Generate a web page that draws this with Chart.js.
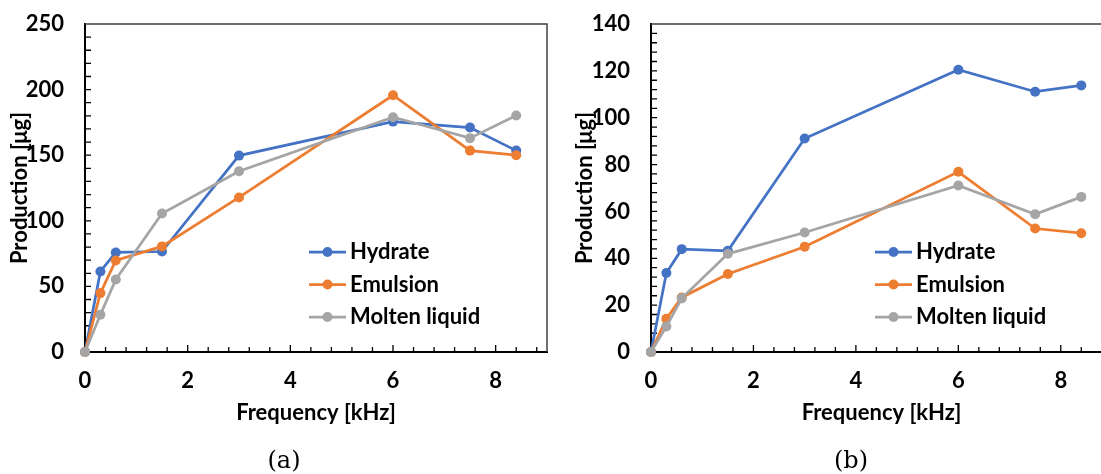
<!DOCTYPE html>
<html>
<head>
<meta charset="utf-8">
<script src="https://cdn.jsdelivr.net/npm/chart.js@4.4.1/dist/chart.umd.min.js"></script>
<style>
  html, body { margin: 0; padding: 0; background: #fff; overflow: hidden; }
  #wrap { position: relative; width: 1101px; height: 474px; overflow: hidden; }
  canvas { position: absolute; top: 0; }
  #chartA { left: 0; }
  #chartB { left: 560px; }
  .caption { position: absolute; top: 446px; width: 60px; text-align: center; line-height: 30px;
             font: 24px "DejaVu Serif", "Liberation Serif", serif; color: #000; }
</style>
</head>
<body>
<div id="wrap">
  <canvas id="chartA" width="560" height="474"></canvas>
  <canvas id="chartB" width="560" height="474"></canvas>
  <div class="caption" style="left:254px">(a)</div>
  <div class="caption" style="left:821px">(b)</div>
</div>
<script>
// ================== DATA ===================
const freq = [0, 0.3, 0.6, 1.5, 3, 6, 7.5, 8.4];
const seriesNames = ["Hydrate", "Emulsion", "Molten liquid"];
const seriesColors = ["#4472C4", "#ED7D31", "#A5A5A5"];

const hydrateA = [0, 61.4, 75.9, 76.6, 149.7, 175.6, 171.1, 153.5];
const emulsionA = [0, 44.9, 69.8, 80.5, 117.8, 195.7, 153.5, 150.0];
const moltenA = [0, 28.4, 55.3, 105.6, 137.8, 178.9, 163.0, 180.2];

const hydrateB = [0, 33.7, 43.9, 43.2, 91.1, 120.5, 111.1, 113.8];
const emulsionB = [0, 14.2, 23.3, 33.3, 44.9, 76.9, 52.7, 50.7];
const moltenB = [0, 10.9, 22.9, 41.9, 51.0, 71.1, 58.8, 66.2];

const xMax = 9, xStep = 2, xMinor = 0.4;
const yMaxA = 250, yStepA = 50, yMinorA = 10;
const yMaxB = 140, yStepB = 20, yMinorB = 4;

const FONT = "Lato, 'Liberation Sans', sans-serif";

// === inside ticks + top/right frame (Excel style) ===
const innerTicks = {
  id: "innerTicks",
  beforeDatasetsDraw(chart, args, opts) {
    const { ctx, chartArea: a, scales: { x, y } } = chart;
    ctx.save();
    ctx.strokeStyle = "#000";
    ctx.lineWidth = 1.3;
    ctx.beginPath();
    const ny = Math.round((y.max - y.min) / opts.yMinor);
    for (let i = 1; i < ny; i++) {
      const py = y.getPixelForValue(y.min + i * opts.yMinor);
      ctx.moveTo(a.left, py);
      ctx.lineTo(a.left + 6, py);
    }
    const nx = Math.round((x.max - x.min) / opts.xMinor);
    for (let i = 1; i <= nx; i++) {
      const v = x.min + i * opts.xMinor;
      if (v >= x.max) break;
      const px = x.getPixelForValue(v);
      const major = Math.abs(v / xStep - Math.round(v / xStep)) < 1e-6;
      ctx.moveTo(px, a.bottom);
      ctx.lineTo(px, a.bottom - (major ? 7 : 5));
    }
    ctx.stroke();

    ctx.strokeStyle = "#404040";
    ctx.lineWidth = 1.5;
    ctx.beginPath();
    ctx.moveTo(a.left, a.top);
    ctx.lineTo(a.right, a.top);
    ctx.lineTo(a.right, a.bottom);
    ctx.stroke();
    ctx.restore();
  }
};

// === legend drawn inside the plot area ===
const insideLegend = {
  id: "insideLegend",
  afterDatasetsDraw(chart, args, opts) {
    const { ctx, chartArea: a } = chart;
    ctx.save();
    ctx.font = "bold 22px " + FONT;
    ctx.textBaseline = "middle";
    ctx.textAlign = "left";
    chart.data.datasets.forEach((ds, i) => {
      const y = opts.top + i * opts.rowGap;
      const x0 = a.left + opts.left;
      ctx.strokeStyle = ds.borderColor;
      ctx.lineWidth = ds.borderWidth;
      ctx.beginPath();
      ctx.moveTo(x0, y);
      ctx.lineTo(x0 + opts.lineLen, y);
      ctx.stroke();
      ctx.fillStyle = ds.borderColor;
      ctx.beginPath();
      ctx.arc(x0 + opts.lineLen / 2, y, ds.pointRadius, 0, Math.PI * 2);
      ctx.fill();
      ctx.fillStyle = "#000";
      ctx.fillText(ds.label, x0 + opts.textOffset, y);
    });
    ctx.restore();
  }
};

function makeDatasets(values) {
  return values.map((vals, i) => ({
    label: seriesNames[i],
    data: freq.map((f, k) => ({ x: f, y: vals[k] })),
    borderColor: seriesColors[i],
    backgroundColor: seriesColors[i],
    pointBackgroundColor: seriesColors[i],
    pointBorderColor: seriesColors[i],
    borderWidth: 2.75,
    pointRadius: 5,
    pointBorderWidth: 0,
    showLine: true,
    clip: false,
    order: 3 - i
  }));
}

// ================== CHARTS ===================
function renderChart(canvasId, values, yMax, yStep, yMinor, cfg) {
  const ctx = document.getElementById(canvasId).getContext("2d");
  new Chart(ctx, {
    type: "scatter",
    data: { datasets: makeDatasets(values) },
    options: {
      responsive: false,
      animation: false,
      devicePixelRatio: 1,
      layout: { padding: { left: 0, top: 24, right: cfg.padRight, bottom: 42 } },
      plugins: {
        legend: { display: false },
        tooltip: { enabled: false },
        innerTicks: { xMinor: xMinor, yMinor: yMinor },
        insideLegend: { left: 224, top: 252, rowGap: 32.5, lineLen: 37, textOffset: 41 }
      },
      scales: {
        x: {
          type: "linear",
          min: 0, max: xMax,
          afterFit: s => { s.height = 80; s.paddingLeft = 0; s.paddingRight = 0; },
          grid: { display: false, drawTicks: false },
          border: { display: true, color: "#000", width: 2 },
          ticks: { stepSize: xStep, includeBounds: false, padding: 16, color: "#000",
                   font: { family: FONT, size: 22, weight: "bold" } },
          title: { display: true, text: "Frequency [kHz]", color: "#000",
                   padding: { top: 0, bottom: 6 },
                   font: { family: FONT, size: 22, weight: "bold" } }
        },
        y: {
          type: "linear",
          min: 0, max: yMax,
          // tick padding would otherwise push the plot top down
          afterFit: s => { s.width = cfg.yWidth; s.paddingTop = 0; s.paddingBottom = 0; },
          grid: { display: false, drawTicks: false },
          border: { display: true, color: "#000", width: 2 },
          ticks: { stepSize: yStep, padding: 21, color: "#000",
                   font: { family: FONT, size: 22, weight: "bold" } },
          title: { display: true, text: "Production [μg]", color: "#000",
                   padding: { top: cfg.titlePad, bottom: 0 },
                   font: { family: FONT, size: 22, weight: "bold" } }
        }
      }
    },
    plugins: [innerTicks, insideLegend]
  });
}

renderChart("chartA", [hydrateA, emulsionA, moltenA], yMaxA, yStepA, yMinorA,
  { yWidth: 85, padRight: 13, titlePad: 7 });
renderChart("chartB", [hydrateB, emulsionB, moltenB], yMaxB, yStepB, yMinorB,
  { yWidth: 91, padRight: 8, titlePad: 12 });
</script>
</body>
</html>
